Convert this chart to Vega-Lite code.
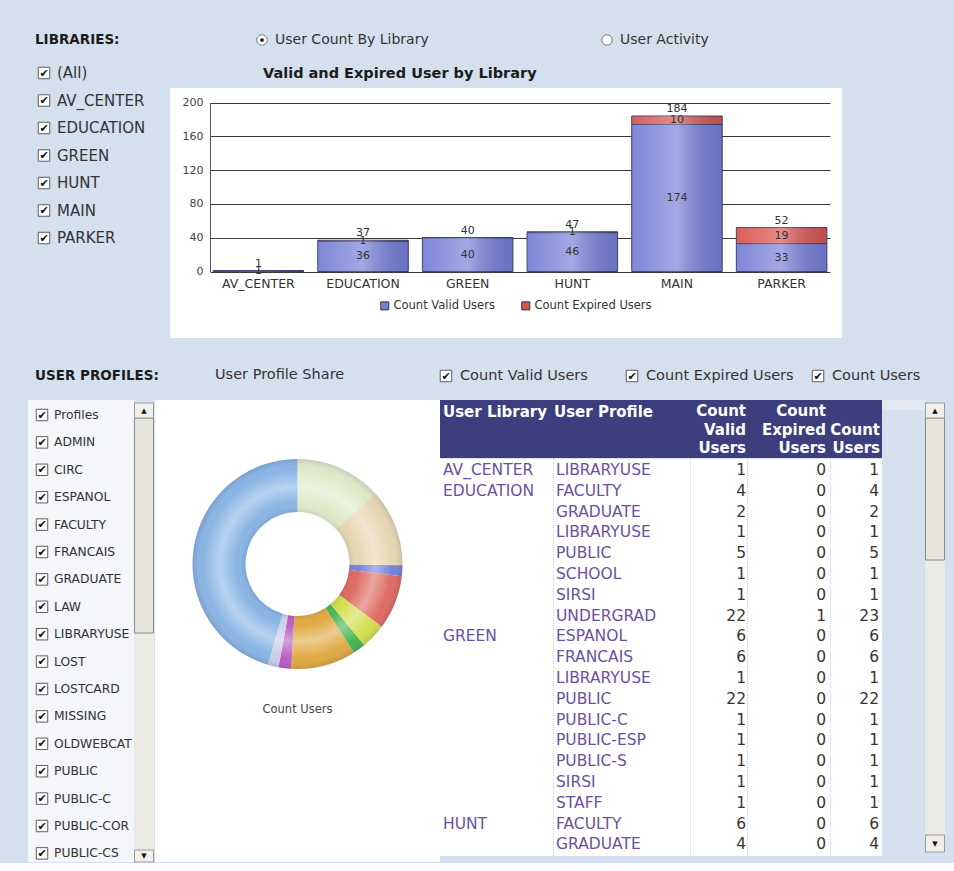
{
"$schema":"https://vega.github.io/schema/vega-lite/v6.json",
"background":"#d5e0ef",
"padding":0,
"spacing":0,
"config":{"view":{"stroke":null},"font":"DejaVu Sans","text":{"font":"DejaVu Sans"},"concat":{"spacing":0}},
"resolve":{"scale":{"color":"independent"},"legend":{"color":"independent"}},
"vconcat":[
{
"hconcat":[
{
"width":170,"height":350,
"data":{"values":[
{"item":"LIBRARIES:","kind":"header"},
{"item":"(All)","kind":"option"},
{"item":"AV_CENTER","kind":"option"},
{"item":"EDUCATION","kind":"option"},
{"item":"GREEN","kind":"option"},
{"item":"HUNT","kind":"option"},
{"item":"MAIN","kind":"option"},
{"item":"PARKER","kind":"option"}]},
"encoding":{"y":{"field":"item","type":"nominal","axis":null,"scale":{"type":"point","domain":["LIBRARIES:","(All)","AV_CENTER","EDUCATION","GREEN","HUNT","MAIN","PARKER"],"range":[45.5,238],"padding":0}}},
"layer":[
{"transform":[{"filter":{"field":"kind","equal":"header"}}],"mark":{"type":"text","align":"left","baseline":"middle","fontSize":13.5,"fontWeight":"bold","color":"#1c1c1c","dy":-5.5},"encoding":{"x":{"value":35},"text":{"field":"item"}}},
{"transform":[{"filter":{"field":"kind","equal":"option"}}],"mark":{"type":"point","shape":"square","size":132,"filled":true,"fill":"#ffffff","stroke":"#5c5c5c","strokeWidth":1,"opacity":1},"encoding":{"x":{"value":44}}},
{"transform":[{"filter":{"field":"kind","equal":"option"}}],"mark":{"type":"text","text":"✔","fontSize":11,"color":"#111111","align":"center","baseline":"middle","dy":0.5},"encoding":{"x":{"value":44}}},
{"transform":[{"filter":{"field":"kind","equal":"option"}}],"mark":{"type":"text","align":"left","baseline":"middle","fontSize":15,"color":"#333333"},"encoding":{"x":{"value":57},"text":{"field":"item"}}}
]
},
{
"vconcat":[
{
"width":784,"height":88,
"data":{"values":[{"option":"User Count By Library","selected":true},{"option":"User Activity","selected":false}]},
"encoding":{"x":{"field":"option","type":"nominal","axis":null,"scale":{"type":"point","domain":["User Count By Library","User Activity"],"range":[92,437],"padding":0}},"y":{"value":40}},
"layer":[
{"mark":{"type":"point","shape":"circle","size":110,"filled":true,"fill":"#ffffff","stroke":"#7a7a7a","strokeWidth":1,"opacity":1}},
{"transform":[{"filter":{"field":"selected","equal":true}}],"mark":{"type":"point","shape":"circle","size":14,"filled":true,"color":"#111111","opacity":1}},
{"mark":{"type":"text","align":"left","baseline":"middle","fontSize":14,"color":"#333333","dx":13},"encoding":{"text":{"field":"option"}}},
{"data":{"values":[{"t":"Valid and Expired User by Library"}]},"mark":{"type":"text","align":"left","baseline":"middle","fontSize":14.5,"fontWeight":"bold","color":"#1c1c1c"},"encoding":{"x":{"value":93},"y":{"value":74},"text":{"field":"t"}}}
]
},
{
"width":672,"height":250,
"view":{"fill":"#ffffff","stroke":null},
"data":{"values":[
{"library":"AV_CENTER","series":"Count Valid Users","count":1},
{"library":"AV_CENTER","series":"Count Expired Users","count":0},
{"library":"EDUCATION","series":"Count Valid Users","count":36},
{"library":"EDUCATION","series":"Count Expired Users","count":1},
{"library":"GREEN","series":"Count Valid Users","count":40},
{"library":"GREEN","series":"Count Expired Users","count":0},
{"library":"HUNT","series":"Count Valid Users","count":46},
{"library":"HUNT","series":"Count Expired Users","count":1},
{"library":"MAIN","series":"Count Valid Users","count":174},
{"library":"MAIN","series":"Count Expired Users","count":10},
{"library":"PARKER","series":"Count Valid Users","count":33},
{"library":"PARKER","series":"Count Expired Users","count":19}]},
"encoding":{
"x":{"field":"library","type":"nominal","title":null,
"scale":{"domain":["AV_CENTER","EDUCATION","GREEN","HUNT","MAIN","PARKER"],"range":[40,660],"paddingInner":0.135,"paddingOuter":0.03},
"axis":{"orient":"bottom","offset":-66.5,"domain":false,"ticks":false,"grid":false,"labelPadding":6,"labelFontSize":12.5,"labelColor":"#333333","labelAngle":0}}
},
"layer":[
{"mark":{"type":"bar","stroke":"#3b3f6e","strokeWidth":1},
"encoding":{
"y":{"field":"count","type":"quantitative","stack":"zero","title":null,
"scale":{"domain":[0,200],"range":[183.5,14.5],"nice":false,"zero":true},
"axis":{"orient":"left","offset":-40,"values":[0,40,80,120,160,200],"grid":true,"gridColor":"#3a3a3a","gridWidth":1,"gridOpacity":1,"domain":true,"domainColor":"#555555","ticks":false,"labelPadding":7,"labelFontSize":11,"labelColor":"#444444","title":null}},
"color":{"field":"series","type":"nominal","scale":{"domain":["Count Valid Users","Count Expired Users"],"range":["#7780d6","#d95650"]},
"legend":{"orient":"none","legendX":209,"legendY":212,"direction":"horizontal","title":null,"symbolType":"square","symbolSize":64,"symbolStrokeColor":"#333333","symbolStrokeWidth":1,"labelFontSize":11.5,"labelColor":"#333333","columnPadding":24,"padding":0,"labelOffset":3}},
"order":{"field":"series","sort":"descending"}}},
{"mark":{"type":"bar","fill":{"gradient":"linear","x1":0,"x2":1,"y1":0,"y2":0,"stops":[{"offset":0,"color":"rgba(255,255,255,0.05)"},{"offset":0.5,"color":"rgba(255,255,255,0.32)"},{"offset":1,"color":"rgba(20,20,60,0.12)"}]},"strokeWidth":0},
"encoding":{"y":{"field":"count","type":"quantitative","stack":"zero","title":null},"detail":{"field":"series"},"order":{"field":"series","sort":"descending"}}},
{"transform":[
{"stack":"count","groupby":["library"],"sort":[{"field":"series","order":"descending"}],"as":["lo","hi"]},
{"fold":["lo","hi"],"as":["edge","pos"]},
{"aggregate":[{"op":"mean","field":"pos","as":"mid"}],"groupby":["library","series","count"]},
{"filter":{"field":"count","gt":0}}],
"mark":{"type":"text","fontSize":11,"color":"#333333","baseline":"middle"},
"encoding":{"y":{"field":"mid","type":"quantitative","title":null},"text":{"field":"count","type":"quantitative"}}},
{"mark":{"type":"text","fontSize":11,"color":"#333333","baseline":"bottom","dy":-2},
"encoding":{"y":{"aggregate":"sum","field":"count","type":"quantitative","stack":null,"title":null},"text":{"aggregate":"sum","field":"count","type":"quantitative"}}}
]
}
],
"spacing":0,
"resolve":{"scale":{"color":"independent"},"legend":{"color":"independent"}}
}
],
"spacing":0,
"resolve":{"scale":{"color":"independent"},"legend":{"color":"independent"}}
},
{
"vconcat":[
{
"width":954,"height":50,
"layer":[
{"data":{"values":[{"t":"USER PROFILES:"}]},"mark":{"type":"text","align":"left","baseline":"middle","fontSize":13.5,"fontWeight":"bold","color":"#1c1c1c"},"encoding":{"x":{"value":35},"y":{"value":26},"text":{"field":"t"}}},
{"data":{"values":[{"t":"User Profile Share"}]},"mark":{"type":"text","align":"left","baseline":"middle","fontSize":14.5,"color":"#333333"},"encoding":{"x":{"value":215},"y":{"value":25},"text":{"field":"t"}}},
{"data":{"values":[{"measure":"Count Valid Users"},{"measure":"Count Expired Users"},{"measure":"Count Users"}]},
"encoding":{"x":{"field":"measure","type":"nominal","axis":null,"scale":{"type":"point","domain":["Count Valid Users","Count Expired Users","Count Users"],"range":[446,818],"padding":0}},"y":{"value":26}},
"layer":[
{"mark":{"type":"point","shape":"square","size":132,"filled":true,"fill":"#ffffff","stroke":"#5c5c5c","strokeWidth":1,"opacity":1}},
{"mark":{"type":"text","text":"✔","fontSize":11,"color":"#111111","align":"center","baseline":"middle","dy":0.5}},
{"mark":{"type":"text","align":"left","baseline":"middle","fontSize":14.5,"color":"#333333","dx":14},"encoding":{"text":{"field":"measure"}}}
]}
]
},
{
"hconcat":[
{"width":28,"height":10,"data":{"values":[]},"mark":"point"},
{
"width":106,"height":462,
"view":{"fill":"#f4f6f9","stroke":null},
"data":{"values":[
{"item":"Profiles"},{"item":"ADMIN"},{"item":"CIRC"},{"item":"ESPANOL"},{"item":"FACULTY"},{"item":"FRANCAIS"},{"item":"GRADUATE"},{"item":"LAW"},{"item":"LIBRARYUSE"},{"item":"LOST"},{"item":"LOSTCARD"},{"item":"MISSING"},{"item":"OLDWEBCAT"},{"item":"PUBLIC"},{"item":"PUBLIC-C"},{"item":"PUBLIC-COR"},{"item":"PUBLIC-CS"}]},
"encoding":{"y":{"field":"item","type":"nominal","axis":null,"scale":{"type":"point","domain":["Profiles","ADMIN","CIRC","ESPANOL","FACULTY","FRANCAIS","GRADUATE","LAW","LIBRARYUSE","LOST","LOSTCARD","MISSING","OLDWEBCAT","PUBLIC","PUBLIC-C","PUBLIC-COR","PUBLIC-CS"],"range":[15,453.4],"padding":0}}},
"layer":[
{"mark":{"type":"point","shape":"square","size":132,"filled":true,"fill":"#ffffff","stroke":"#5c5c5c","strokeWidth":1,"opacity":1},"encoding":{"x":{"value":14}}},
{"mark":{"type":"text","text":"✔","fontSize":11,"color":"#111111","align":"center","baseline":"middle","dy":0.5},"encoding":{"x":{"value":14}}},
{"mark":{"type":"text","align":"left","baseline":"middle","fontSize":12.3,"color":"#333333"},"encoding":{"x":{"value":26},"text":{"field":"item"}}}
]
},
{
"width":21,"height":462,
"data":{"values":[{}]},
"layer":[
{"mark":{"type":"rect","fill":"#eae9e4"},"encoding":{"x":{"value":0},"x2":{"value":20},"y":{"value":18},"y2":{"value":462}}},
{"mark":{"type":"rect","fill":"#e6e4dc","stroke":"#8a8a8a","strokeWidth":1},"encoding":{"x":{"value":0.5},"x2":{"value":19.5},"y":{"value":18},"y2":{"value":233}}},
{"mark":{"type":"rect","fill":"#f0efea","stroke":"#9a9a9a","strokeWidth":1},"encoding":{"x":{"value":0.5},"x2":{"value":19.5},"y":{"value":3},"y2":{"value":18}}},
{"mark":{"type":"rect","fill":"#f0efea","stroke":"#9a9a9a","strokeWidth":1},"encoding":{"x":{"value":0.5},"x2":{"value":19.5},"y":{"value":450},"y2":{"value":462}}},
{"mark":{"type":"text","text":"▲","fontSize":7,"color":"#111111"},"encoding":{"x":{"value":10},"y":{"value":11}}},
{"mark":{"type":"text","text":"▼","fontSize":7,"color":"#111111"},"encoding":{"x":{"value":10},"y":{"value":456}}}
]
},
{
"vconcat":[
{
"width":285,"height":328,
"view":{"fill":"#ffffff","stroke":null},
"layer":[
{"data":{"values":[
{"profile":"FACULTY","users":48},
{"profile":"GRADUATE","users":43},
{"profile":"LIBRARYUSE","users":6},
{"profile":"PUBLIC","users":30},
{"profile":"PUBLIC-C","users":14},
{"profile":"PUBLIC-ESP","users":7},
{"profile":"SCHOOL","users":36},
{"profile":"SIRSI","users":7},
{"profile":"STAFF","users":6},
{"profile":"UNDERGRAD","users":164}]},
"mark":{"type":"arc","radius":105,"radius2":52},
"encoding":{"theta":{"field":"users","type":"quantitative","stack":true},
"color":{"field":"profile","type":"nominal","legend":null,"scale":{"domain":["FACULTY","GRADUATE","LIBRARYUSE","PUBLIC","PUBLIC-C","PUBLIC-ESP","SCHOOL","SIRSI","STAFF","UNDERGRAD"],"range":["#dfe9c9","#e6d6b2","#7683da","#de6c62","#d3de50","#4cb454","#e0aa44","#bb5fc4","#c8cfe8","#89b5e4"]}}}},
{"data":{"values":[{}]},"mark":{"type":"arc","radius":105,"radius2":52,"theta":0,"theta2":6.2832,"fill":{"gradient":"radial","x1":0.5,"y1":0.5,"r1":0,"x2":0.5,"y2":0.5,"r2":0.5,"stops":[{"offset":0.49,"color":"rgba(0,0,40,0.10)"},{"offset":0.58,"color":"rgba(255,255,255,0)"},{"offset":0.74,"color":"rgba(255,255,255,0.4)"},{"offset":0.9,"color":"rgba(255,255,255,0)"},{"offset":1,"color":"rgba(0,0,40,0.12)"}]}}},
{"data":{"values":[{"t":"Count Users"}]},"mark":{"type":"text","fontSize":11.5,"color":"#444444","dy":146},"encoding":{"text":{"field":"t"}}}
]
},
{"width":285,"height":134,"view":{"fill":"#ffffff","stroke":null},"data":{"values":[]},"mark":"point"}
],
"spacing":0
},
{
"vconcat":[
{
"width":442,"height":58,
"view":{"fill":"#3c3e7e","stroke":null},
"layer":[
{"data":{"values":[{"h":"User Library"}]},"mark":{"type":"text","align":"left","baseline":"middle","fontSize":15,"fontWeight":"bold","color":"#ffffff"},"encoding":{"x":{"value":3},"y":{"value":12},"text":{"field":"h"}}},
{"data":{"values":[{"h":"User Profile"}]},"mark":{"type":"text","align":"left","baseline":"middle","fontSize":15,"fontWeight":"bold","color":"#ffffff"},"encoding":{"x":{"value":114},"y":{"value":12},"text":{"field":"h"}}},
{"data":{"values":[{"h":["Count","Valid","Users"]}]},"mark":{"type":"text","align":"right","baseline":"top","lineHeight":18.5,"fontSize":15,"fontWeight":"bold","color":"#ffffff"},"encoding":{"x":{"value":306},"y":{"value":4},"text":{"field":"h"}}},
{"data":{"values":[{"h":["Count","Expired","Users"]}]},"mark":{"type":"text","align":"right","baseline":"top","lineHeight":18.5,"fontSize":15,"fontWeight":"bold","color":"#ffffff"},"encoding":{"x":{"value":386},"y":{"value":4},"text":{"field":"h"}}},
{"data":{"values":[{"h":["Count","Users"]}]},"mark":{"type":"text","align":"right","baseline":"top","lineHeight":18.5,"fontSize":15,"fontWeight":"bold","color":"#ffffff"},"encoding":{"x":{"value":440},"y":{"value":22.5},"text":{"field":"h"}}}
]
},
{
"width":442,"height":397,
"view":{"fill":"#ffffff","stroke":null},
"data":{"values":[
{"row":0,"library":"AV_CENTER","profile":"LIBRARYUSE","valid":1,"expired":0,"users":1},
{"row":1,"library":"EDUCATION","profile":"FACULTY","valid":4,"expired":0,"users":4},
{"row":2,"library":"EDUCATION","profile":"GRADUATE","valid":2,"expired":0,"users":2},
{"row":3,"library":"EDUCATION","profile":"LIBRARYUSE","valid":1,"expired":0,"users":1},
{"row":4,"library":"EDUCATION","profile":"PUBLIC","valid":5,"expired":0,"users":5},
{"row":5,"library":"EDUCATION","profile":"SCHOOL","valid":1,"expired":0,"users":1},
{"row":6,"library":"EDUCATION","profile":"SIRSI","valid":1,"expired":0,"users":1},
{"row":7,"library":"EDUCATION","profile":"UNDERGRAD","valid":22,"expired":1,"users":23},
{"row":8,"library":"GREEN","profile":"ESPANOL","valid":6,"expired":0,"users":6},
{"row":9,"library":"GREEN","profile":"FRANCAIS","valid":6,"expired":0,"users":6},
{"row":10,"library":"GREEN","profile":"LIBRARYUSE","valid":1,"expired":0,"users":1},
{"row":11,"library":"GREEN","profile":"PUBLIC","valid":22,"expired":0,"users":22},
{"row":12,"library":"GREEN","profile":"PUBLIC-C","valid":1,"expired":0,"users":1},
{"row":13,"library":"GREEN","profile":"PUBLIC-ESP","valid":1,"expired":0,"users":1},
{"row":14,"library":"GREEN","profile":"PUBLIC-S","valid":1,"expired":0,"users":1},
{"row":15,"library":"GREEN","profile":"SIRSI","valid":1,"expired":0,"users":1},
{"row":16,"library":"GREEN","profile":"STAFF","valid":1,"expired":0,"users":1},
{"row":17,"library":"HUNT","profile":"FACULTY","valid":6,"expired":0,"users":6},
{"row":18,"library":"HUNT","profile":"GRADUATE","valid":4,"expired":0,"users":4}]},
"layer":[
{"data":{"values":[{}]},"mark":{"type":"rule","color":"#cfcfd9","strokeDash":[1,1]},"encoding":{"x":{"value":113.5}}},
{"data":{"values":[{}]},"mark":{"type":"rule","color":"#cfcfd9","strokeDash":[1,1]},"encoding":{"x":{"value":250.5}}},
{"data":{"values":[{}]},"mark":{"type":"rule","color":"#cfcfd9","strokeDash":[1,1]},"encoding":{"x":{"value":307.5}}},
{"data":{"values":[{}]},"mark":{"type":"rule","color":"#cfcfd9","strokeDash":[1,1]},"encoding":{"x":{"value":390.5}}},
{"transform":[{"window":[{"op":"row_number","as":"rn"}],"groupby":["library"],"sort":[{"field":"row","order":"ascending"}]},{"filter":{"field":"rn","equal":1}}],
"mark":{"type":"text","align":"left","baseline":"middle","fontSize":15.5,"color":"#6b519d"},
"encoding":{"x":{"value":3},"y":{"field":"row","type":"ordinal","axis":null,"scale":{"type":"point","domain":[0,1,2,3,4,5,6,7,8,9,10,11,12,13,14,15,16,17,18],"range":[11,385.4],"padding":0}},"text":{"field":"library"}}},
{"mark":{"type":"text","align":"left","baseline":"middle","fontSize":15.5,"color":"#6b519d"},
"encoding":{"x":{"value":116},"y":{"field":"row","type":"ordinal"},"text":{"field":"profile"}}},
{"mark":{"type":"text","align":"right","baseline":"middle","fontSize":15.5,"color":"#3b3434"},
"encoding":{"x":{"value":306},"y":{"field":"row","type":"ordinal"},"text":{"field":"valid","type":"quantitative"}}},
{"mark":{"type":"text","align":"right","baseline":"middle","fontSize":15.5,"color":"#3b3434"},
"encoding":{"x":{"value":386},"y":{"field":"row","type":"ordinal"},"text":{"field":"expired","type":"quantitative"}}},
{"mark":{"type":"text","align":"right","baseline":"middle","fontSize":15.5,"color":"#3b3434"},
"encoding":{"x":{"value":439},"y":{"field":"row","type":"ordinal"},"text":{"field":"users","type":"quantitative"}}}
]
}
],
"spacing":0
},
{"width":43,"height":10,"view":{"fill":"#e1e8f2","stroke":null},"data":{"values":[]},"mark":"point"},
{
"width":22,"height":455,
"data":{"values":[{}]},
"layer":[
{"mark":{"type":"rect","fill":"#eae9e4"},"encoding":{"x":{"value":0},"x2":{"value":20},"y":{"value":18},"y2":{"value":452}}},
{"mark":{"type":"rect","fill":"#e6e4dc","stroke":"#8a8a8a","strokeWidth":1},"encoding":{"x":{"value":0.5},"x2":{"value":19.5},"y":{"value":18},"y2":{"value":160}}},
{"mark":{"type":"rect","fill":"#f0efea","stroke":"#9a9a9a","strokeWidth":1},"encoding":{"x":{"value":0.5},"x2":{"value":19.5},"y":{"value":3},"y2":{"value":18}}},
{"mark":{"type":"rect","fill":"#f0efea","stroke":"#9a9a9a","strokeWidth":1},"encoding":{"x":{"value":0.5},"x2":{"value":19.5},"y":{"value":435},"y2":{"value":452}}},
{"mark":{"type":"text","text":"▲","fontSize":7,"color":"#111111"},"encoding":{"x":{"value":10},"y":{"value":11}}},
{"mark":{"type":"text","text":"▼","fontSize":7,"color":"#111111"},"encoding":{"x":{"value":10},"y":{"value":444}}}
]
}
],
"spacing":0,
"resolve":{"scale":{"color":"independent"},"legend":{"color":"independent"}}
}
],
"spacing":0,
"resolve":{"scale":{"color":"independent"},"legend":{"color":"independent"}}
}
]
}
